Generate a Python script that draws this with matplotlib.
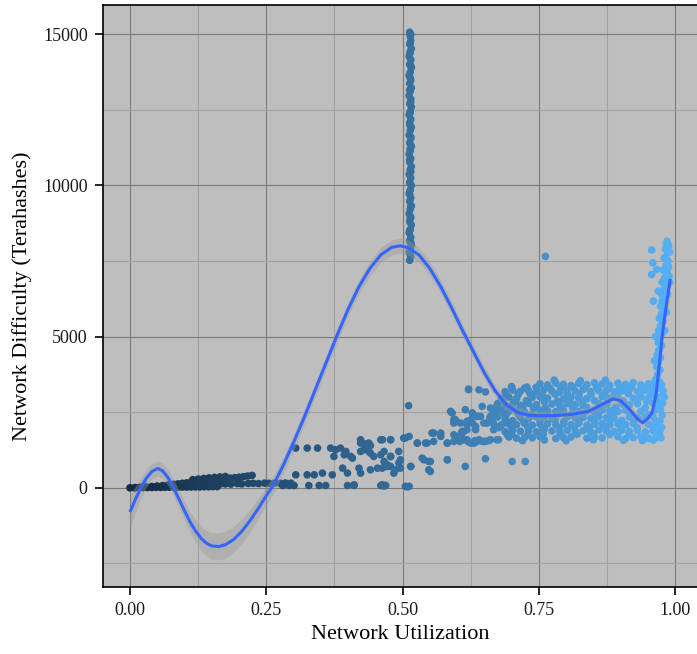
#!/usr/bin/env python3
"""Network difficulty vs network utilization, scatter + loess-style smooth.
Saves out.png
"""
import numpy as np
import matplotlib.pyplot as plt
from matplotlib.colors import LinearSegmentedColormap

plt.rcParams['font.family'] = ['Liberation Serif', 'DejaVu Serif']

# ---- scatter data (x = utilization, y = difficulty) ----
# early period, thin streaks near zero
early_x = [0.000, 0.008, 0.016, 0.024, 0.032, 0.040, 0.048, 0.056, 0.064, 0.072, 0.080,
           0.088, 0.096, 0.104, 0.112, 0.120, 0.128, 0.136, 0.144, 0.152, 0.160,
           0.010, 0.020, 0.030, 0.040, 0.050, 0.060, 0.070, 0.080, 0.088, 0.096, 0.104,
           0.112, 0.120, 0.128, 0.136, 0.144, 0.152, 0.160, 0.168, 0.176, 0.184, 0.192,
           0.200, 0.208, 0.216, 0.224,
           0.090, 0.100, 0.110, 0.120, 0.130, 0.140, 0.150, 0.160, 0.170,
           0.115, 0.125, 0.135, 0.145, 0.155, 0.165, 0.175]
early_y = [0, 0, 5, 8, 10, 12, 15, 15, 18, 20, 20,
           22, 25, 25, 28, 30, 30, 35, 35, 40, 40,
           10, 20, 30, 45, 60, 75, 95, 115, 130, 150, 165,
           180, 195, 215, 230, 245, 260, 275, 290, 305, 320, 335,
           350, 370, 390, 410,
           60, 80, 95, 110, 125, 140, 160, 175, 190,
           270, 290, 310, 330, 345, 360, 375]

# lower dotted row continuing to the right
low_x = [0.165, 0.175, 0.185, 0.197, 0.205, 0.217, 0.226, 0.236, 0.247, 0.255, 0.266,
         0.276, 0.285, 0.295, 0.280, 0.292, 0.301, 0.328, 0.347, 0.359, 0.399, 0.411,
         0.460, 0.466, 0.505, 0.512, 0.411, 0.463, 0.469, 0.509]
low_y = [120, 130, 125, 140, 130, 145, 150, 140, 155, 150, 160,
         150, 160, 155, 77, 77, 77, 77, 77, 77, 77, 77,
         77, 60, 50, 50, 100, 100, 80, 30]

# middle scattered region
mid_x = [0.304, 0.325, 0.344, 0.368, 0.377, 0.386, 0.396, 0.423, 0.432, 0.441, 0.460,
         0.478, 0.505, 0.527, 0.545, 0.557, 0.570, 0.582, 0.594, 0.609, 0.618, 0.631,
         0.374, 0.393, 0.408, 0.423, 0.438, 0.447, 0.466, 0.478, 0.493,
         0.304, 0.325, 0.338, 0.353, 0.371, 0.390, 0.399, 0.420, 0.423, 0.441, 0.454,
         0.463, 0.472, 0.478, 0.484, 0.496, 0.496, 0.515, 0.539, 0.551, 0.548, 0.582,
         0.615, 0.423, 0.438, 0.463, 0.478, 0.502, 0.512, 0.527, 0.542, 0.554, 0.557,
         0.570, 0.582, 0.594, 0.600, 0.612, 0.625, 0.634, 0.637, 0.649, 0.661, 0.673,
         0.405, 0.429, 0.441, 0.460, 0.466, 0.472, 0.478, 0.487, 0.493, 0.515, 0.536,
         0.548, 0.551, 0.582, 0.511, 0.591, 0.594, 0.597, 0.621, 0.628, 0.628, 0.618,
         0.609, 0.652, 0.701, 0.725]
mid_y = [1314, 1314, 1314, 1314, 1258, 1314, 1203, 1479, 1450, 1400, 1589,
         1589, 1645, 1479, 1479, 1810, 1810, 1479, 1755, 1810, 1589, 1479,
         1037, 1093, 982, 1203, 1203, 1037, 1203, 1037, 1203,
         430, 430, 430, 486, 430, 651, 486, 651, 486, 596, 651,
         651, 762, 706, 486, 927, 651, 706, 927, 870, 596, 927,
         706, 1589, 1479, 1589, 1589, 1645, 1700, 1479, 1479, 1810, 1534,
         1700, 1479, 1534, 1700, 1589, 1479, 1920, 1534, 1534, 1589, 1589,
         1037, 1258, 1148, 1093, 872, 706, 1037, 596, 817, 706, 982,
         872, 541, 927, 2715, 2472, 2141, 2251, 3267, 2472, 2141, 2086,
         1865, 960, 870, 870]

# transition towards the dense cluster
trans_x = [0.588, 0.594, 0.606, 0.615, 0.618, 0.625, 0.637, 0.646, 0.649, 0.661, 0.673,
           0.679, 0.686, 0.612, 0.618, 0.628, 0.634, 0.640, 0.643, 0.652, 0.655, 0.661,
           0.667, 0.670, 0.676, 0.686, 0.692, 0.605, 0.620, 0.633, 0.647, 0.658,
           0.621, 0.640, 0.652]
trans_y = [2527, 2251, 2141, 2582, 1920, 2251, 2361, 2692, 2141, 2361, 2692,
           2030, 2472, 1865, 2196, 2472, 2030, 1589, 2361, 1534, 2141, 2638,
           1920, 2472, 1589, 2141, 1755, 1534, 1530, 1560, 1530, 1560,
           3245, 3240, 3170]

# dense band, rows read left to right (top row first)
band_x = [0.752, 0.766, 0.781, 0.795, 0.809, 0.823, 0.838, 0.852, 0.866, 0.880, 0.895,
          0.909, 0.923, 0.937, 0.951, 0.963,
          0.688, 0.702, 0.716, 0.731, 0.745, 0.759, 0.774, 0.788, 0.802, 0.817, 0.831,
          0.845, 0.860, 0.874, 0.888, 0.902, 0.916, 0.931, 0.945, 0.959,
          0.681, 0.695, 0.709, 0.738, 0.752, 0.766, 0.795, 0.809, 0.823, 0.838, 0.866,
          0.880, 0.895, 0.923, 0.937, 0.951, 0.965,
          0.674, 0.688, 0.702, 0.716, 0.731, 0.745, 0.774, 0.788, 0.802, 0.817, 0.831,
          0.860, 0.874, 0.902, 0.916, 0.931, 0.959,
          0.667, 0.681, 0.695, 0.709, 0.724, 0.752, 0.766, 0.781, 0.795, 0.823, 0.838,
          0.852, 0.866, 0.880, 0.895, 0.909, 0.937, 0.965,
          0.660, 0.674, 0.688, 0.716, 0.731, 0.745, 0.759, 0.774, 0.802, 0.817, 0.831,
          0.845, 0.860, 0.874, 0.888, 0.916, 0.931, 0.945, 0.959,
          0.667, 0.681, 0.695, 0.709, 0.724, 0.738, 0.752, 0.766, 0.781, 0.795, 0.809,
          0.823, 0.838, 0.852, 0.866, 0.880, 0.895, 0.909, 0.923, 0.951, 0.968,
          0.688, 0.702, 0.716, 0.731, 0.745, 0.759, 0.774, 0.788, 0.802, 0.817, 0.831,
          0.845, 0.860, 0.874, 0.888, 0.902, 0.916, 0.931, 0.945, 0.959, 0.972,
          0.695, 0.709, 0.724, 0.738, 0.752, 0.781, 0.795, 0.809, 0.838, 0.852, 0.866,
          0.895, 0.909, 0.923, 0.937, 0.951, 0.965,
          0.720, 0.760, 0.800, 0.850, 0.905, 0.940, 0.960,
          0.700, 0.728, 0.778, 0.826, 0.872, 0.912, 0.955]
band_y = [3440, 3400, 3460, 3420, 3380, 3450, 3410, 3470, 3430, 3390, 3460,
          3420, 3480, 3400, 3440, 3500,
          3180, 3230, 3190, 3210, 3170, 3240, 3200, 3160, 3220, 3190, 3250,
          3180, 3210, 3230, 3170, 3200, 3240, 3190, 3220, 3260,
          2960, 3000, 2950, 2990, 3010, 2970, 2940, 3000, 2980, 2950, 3010,
          2970, 2990, 2960, 3000, 2980, 3020,
          2780, 2740, 2770, 2730, 2790, 2750, 2770, 2740, 2780, 2760, 2730,
          2790, 2750, 2770, 2740, 2780, 2800,
          2520, 2560, 2530, 2550, 2510, 2570, 2540, 2520, 2560, 2530, 2550,
          2510, 2570, 2540, 2520, 2560, 2530, 2580,
          2300, 2340, 2310, 2330, 2290, 2350, 2320, 2300, 2340, 2310, 2330,
          2290, 2350, 2320, 2300, 2340, 2310, 2330, 2360,
          2120, 2080, 2110, 2090, 2130, 2070, 2100, 2120, 2080, 2110, 2090,
          2130, 2070, 2100, 2120, 2080, 2110, 2090, 2130, 2100, 2120,
          1860, 1900, 1870, 1890, 1850, 1910, 1880, 1860, 1900, 1870, 1890,
          1850, 1910, 1880, 1860, 1900, 1870, 1890, 1850, 1880, 1900,
          1680, 1640, 1670, 1650, 1690, 1630, 1660, 1680, 1640, 1670, 1650,
          1690, 1630, 1660, 1680, 1640, 1670,
          1560, 1580, 1560, 1590, 1570, 1560, 1580,
          3350, 3330, 3560, 3540, 3560, 3330, 3380]

# in-between points of the dense band (fill the gaps between rows)
fill_x = [0.700, 0.724, 0.745, 0.770, 0.790, 0.812, 0.834, 0.856, 0.878, 0.898, 0.920,
          0.942, 0.960,
          0.690, 0.712, 0.734, 0.756, 0.780, 0.802, 0.824, 0.846, 0.870, 0.892, 0.914,
          0.936, 0.956,
          0.684, 0.705, 0.727, 0.760, 0.784, 0.806, 0.830, 0.852, 0.876, 0.905, 0.928,
          0.948, 0.968,
          0.672, 0.696, 0.720, 0.740, 0.762, 0.790, 0.812, 0.838, 0.862, 0.890, 0.910,
          0.945, 0.968,
          0.668, 0.690, 0.712, 0.736, 0.758, 0.786, 0.810, 0.830, 0.857, 0.885, 0.918,
          0.952,
          0.664, 0.690, 0.702, 0.722, 0.752, 0.780, 0.796, 0.824, 0.852, 0.880, 0.902,
          0.924, 0.964,
          0.676, 0.700, 0.730, 0.760, 0.788, 0.815, 0.842, 0.872, 0.900, 0.930, 0.960,
          0.700, 0.730, 0.758, 0.790, 0.820, 0.850, 0.880, 0.915, 0.945, 0.968]
fill_y = [3310, 3300, 3320, 3290, 3310, 3330, 3300, 3320, 3290, 3310, 3330,
          3300, 3320,
          3090, 3080, 3100, 3070, 3090, 3110, 3080, 3100, 3070, 3090, 3110,
          3080, 3100,
          2870, 2860, 2880, 2850, 2870, 2890, 2860, 2880, 2850, 2870, 2890,
          2860, 2880,
          2650, 2640, 2660, 2630, 2650, 2670, 2640, 2660, 2630, 2650, 2670,
          2640, 2660,
          2430, 2420, 2440, 2410, 2430, 2450, 2420, 2440, 2410, 2430, 2450,
          2420,
          2210, 2200, 2220, 2190, 2210, 2230, 2200, 2220, 2190, 2210, 2230,
          2200, 2220,
          1990, 1980, 2000, 1970, 1990, 2010, 1980, 2000, 1970, 1990, 2010,
          1770, 1760, 1780, 1750, 1770, 1790, 1760, 1780, 1750, 1770]

# steep rise at the far right
rise_x = [0.985, 0.988, 0.982, 0.986, 0.980, 0.987, 0.983, 0.978, 0.985, 0.981, 0.976,
          0.984, 0.979, 0.975, 0.982, 0.977, 0.973, 0.980, 0.975, 0.971, 0.978, 0.973,
          0.970, 0.976, 0.972, 0.969, 0.975, 0.970, 0.967, 0.973, 0.969, 0.966, 0.972,
          0.968, 0.965, 0.971, 0.957, 0.959, 0.966, 0.957, 0.960, 0.969, 0.976, 0.990,
          0.990, 0.988, 0.984,
          0.975, 0.978, 0.974, 0.977, 0.973, 0.976, 0.972, 0.975, 0.971, 0.974, 0.968,
          0.980, 0.981, 0.984, 0.986, 0.989, 0.962, 0.964]
rise_y = [8150, 8000, 7900, 7750, 7600, 7500, 7350, 7200, 7100, 6950, 6800,
          6700, 6550, 6400, 6300, 6150, 6000, 5900, 5750, 5600, 5500, 5350,
          5200, 5100, 4950, 4800, 4700, 4550, 4400, 4300, 4150, 4000, 3900,
          3750, 3600, 3500, 7860, 7440, 7220, 7050, 6170, 6500, 6170, 7800,
          6800, 7300, 8050,
          3400, 3200, 3000, 2800, 2600, 2400, 2200, 2000, 1800, 1650, 3300,
          3000, 5200, 5800, 6400, 7000, 4200, 5000]

# vertical column of points at ~0.51 utilization
column_x = [0.513, 0.515, 0.512, 0.514, 0.516, 0.513, 0.515, 0.512, 0.514, 0.516,
            0.513, 0.515, 0.512, 0.514, 0.516, 0.513, 0.515, 0.512, 0.514, 0.516,
            0.513, 0.515, 0.512, 0.514, 0.516, 0.513, 0.515, 0.512, 0.514, 0.516,
            0.513, 0.515, 0.512, 0.514, 0.516, 0.513, 0.515, 0.512, 0.514, 0.516,
            0.513, 0.515, 0.512, 0.514, 0.516, 0.513, 0.515, 0.512, 0.514, 0.516,
            0.513, 0.515, 0.512, 0.514, 0.516, 0.513, 0.515, 0.514, 0.513,
            0.514, 0.515, 0.513, 0.514, 0.515, 0.513, 0.514, 0.515, 0.513, 0.514,
            0.515, 0.513, 0.514, 0.515, 0.513, 0.514, 0.515, 0.513, 0.514, 0.515]
column_y = [7520, 7640, 7790, 7910, 8020, 8170, 8280, 8430, 8540, 8690,
            8800, 8950, 9060, 9210, 9320, 9470, 9580, 9730, 9840, 9990,
            10100, 10250, 10360, 10510, 10620, 10770, 10880, 11030, 11140, 11290,
            11400, 11550, 11660, 11810, 11920, 12070, 12180, 12330, 12440, 12590,
            12700, 12850, 12960, 13110, 13220, 13370, 13480, 13630, 13740, 13890,
            14000, 14150, 14260, 14410, 14520, 14670, 14780, 14930, 15060,
            7700, 8100, 8500, 8900, 9300, 9700, 10050, 10450, 10850, 11200,
            11600, 12000, 12400, 12750, 13150, 13550, 13950, 14350, 14700, 14990]

# lone outlier
outlier_x = [0.762]
outlier_y = [7650]

# ---- smoothed curve and its confidence band ----
smooth_x = [0.000, 0.010, 0.020, 0.030, 0.040, 0.051, 0.060, 0.070, 0.080, 0.090,
            0.100, 0.110, 0.120, 0.130, 0.140, 0.150, 0.163, 0.175, 0.190, 0.205,
            0.220, 0.235, 0.250, 0.262, 0.280, 0.300, 0.320, 0.340, 0.360, 0.380,
            0.400, 0.420, 0.440, 0.460, 0.480, 0.496, 0.510, 0.530, 0.550, 0.570,
            0.590, 0.610, 0.630, 0.650, 0.670, 0.690, 0.710, 0.730, 0.750, 0.780,
            0.810, 0.840, 0.865, 0.886, 0.900, 0.915, 0.930, 0.940, 0.950, 0.958,
            0.965, 0.971, 0.976, 0.981, 0.986, 0.991]
smooth_y = [-800, -380, 0, 320, 540, 640, 560, 330, 0, -380,
            -760, -1120, -1420, -1660, -1830, -1920, -1940, -1880, -1710, -1440,
            -1090, -690, -260, 60, 700, 1500, 2350, 3250, 4150, 5050,
            5900, 6650, 7250, 7700, 7950, 8000, 7940, 7700, 7250, 6650,
            5950, 5200, 4500, 3800, 3200, 2750, 2500, 2400, 2380, 2390,
            2430, 2520, 2750, 2940, 2880, 2620, 2300, 2150, 2300, 2500,
            3100, 4100, 5000, 5700, 6300, 6900]
smooth_se = [560, 430, 340, 290, 260, 250, 250, 260, 270, 290,
             310, 340, 370, 400, 420, 440, 450, 450, 430, 400,
             370, 340, 310, 290, 270, 250, 240, 230, 230, 230,
             230, 230, 240, 250, 250, 250, 250, 240, 230, 220,
             210, 200, 200, 200, 190, 180, 170, 160, 150, 150,
             150, 150, 160, 170, 170, 170, 170, 170, 180, 190,
             220, 280, 330, 380, 430, 480]

# ---- plot ----
all_x = np.array(early_x + low_x + mid_x + trans_x + band_x + fill_x + column_x
                 + outlier_x + rise_x)
all_y = np.array(early_y + low_y + mid_y + trans_y + band_y + fill_y + column_y
                 + outlier_y + rise_y)

cmap = LinearSegmentedColormap.from_list('gg', ['#132B43', '#56B1F7'])

fig = plt.figure(figsize=(6.97, 6.54), dpi=100)
ax = fig.add_axes([103 / 697, 1 - 587 / 654, (697 - 103) / 697, (587 - 5) / 654])
ax.set_facecolor('#BEBEBE')

ax.scatter(all_x, all_y, c=all_x, cmap=cmap, vmin=0, vmax=1, s=30, linewidths=0, zorder=2)

sx = np.array(smooth_x)
sy = np.array(smooth_y)
se = np.array(smooth_se)
ax.fill_between(sx, sy - se, sy + se, color='#999999', alpha=0.4, linewidth=0, zorder=3)
ax.plot(sx, sy, color='#3366FF', lw=2.2, zorder=4, solid_capstyle='butt')

ax.set_xlim(-0.0495, 1.04)
ax.set_ylim(-3278, 15960)
ax.set_xticks([0, 0.25, 0.5, 0.75, 1.0])
ax.set_xticklabels(['0.00', '0.25', '0.50', '0.75', '1.00'])
ax.set_xticks([0.125, 0.375, 0.625, 0.875], minor=True)
ax.set_yticks([0, 5000, 10000, 15000])
ax.set_yticklabels(['0', '5000', '10000', '15000'])
ax.set_yticks([-2500, 2500, 7500, 12500], minor=True)

ax.grid(which='major', color='#7A7A7A', lw=0.8, zorder=1)
ax.grid(which='minor', color='#A2A2A2', lw=0.8, zorder=1)
ax.set_axisbelow(True)

ax.tick_params(which='major', length=6, width=1.2, color='black', labelsize=13,
               labelcolor='#1A1A1A', pad=5)
ax.tick_params(which='minor', length=0)
for side in ['left', 'bottom', 'top']:
    ax.spines[side].set_color('black')
    ax.spines[side].set_linewidth(1.2)
ax.spines['right'].set_visible(False)

ax.set_xlabel('Network Utilization', fontsize=16, labelpad=4)
ax.set_ylabel('Network Difficulty (Terahashes)', fontsize=16, labelpad=8)

fig.savefig('out.png', dpi=100)
print('Wrote out.png')
